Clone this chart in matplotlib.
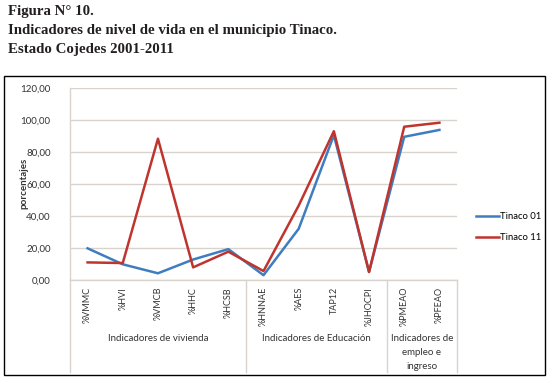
import numpy as np
import matplotlib
matplotlib.use('Agg')
import matplotlib.pyplot as plt
from matplotlib.patches import Rectangle

# data
categories = ['%VMMC', '%HVI', '%VMCB', '%HHC', '%HCSB',
              '%HNNAE', '%AES', 'TAP12', '%JHOCPI',
              '%PMEAO', '%PFEAO']
tinaco_01 = [19.8, 9.8, 4.2, 12.8, 19.3, 3.0, 32.0, 90.5, 5.0, 89.5, 93.8]
tinaco_11 = [11.0, 10.6, 88.3, 7.9, 17.7, 5.6, 46.5, 93.0, 5.0, 95.8, 98.3]
groups = ['Indicadores de vivienda', 'Indicadores de Educación',
          'Indicadores de\nempleo e\ningreso']
group_sizes = [5, 4, 2]
yticks = [0, 20, 40, 60, 80, 100, 120]

W, H = 549, 379
fig = plt.figure(figsize=(W / 100, H / 100), dpi=100)

# title in serif, above the chart frame
title_lines = ['Figura N° 10.',
               'Indicadores de nivel de vida en el municipio Tinaco.',
               'Estado Cojedes 2001-2011']
for i, t in enumerate(title_lines):
    fig.text(8 / W, 1 - (11 + 19.5 * i) / H, t, family='Liberation Serif',
             weight='bold', fontsize=10.7, color='#231f20', va='center', ha='left')

# chart frame
fig.patches.append(Rectangle((3.5 / W, 1 - 374.5 / H), 541 / W, 299 / H,
                             transform=fig.transFigure, fill=False,
                             edgecolor='black', linewidth=1.0))

grid_col = '#d9d3ce'
font = 'Lato'
txt_col = '#333333'

ax = fig.add_axes([70 / W, 1 - 280 / H, 387 / W, 192 / H])
x = np.arange(len(categories))
ax.plot(x, tinaco_01, color='#3f7dc0', lw=1.8, label='Tinaco 01', zorder=3)
ax.plot(x, tinaco_11, color='#c0342e', lw=1.8, label='Tinaco 11', zorder=4)

ax.set_xlim(-0.5, len(categories) - 0.5)
ax.set_ylim(0, 120)
ax.set_yticks(yticks)
ax.set_yticklabels(['{:.2f}'.format(v).replace('.', ',') for v in yticks],
                   family=font, fontsize=7, color=txt_col)
ax.tick_params(axis='y', length=0, pad=14)
ax.yaxis.grid(True, color=grid_col, lw=1.0)
ax.set_axisbelow(True)
ax.set_xticks(x)
ax.set_xticklabels(categories, rotation=90, family=font, fontsize=6.5,
                   color=txt_col, va='top')
ax.tick_params(axis='x', length=0, pad=5)
for s in ['top', 'right']:
    ax.spines[s].set_visible(False)
for s in ['left', 'bottom']:
    ax.spines[s].set_color(grid_col)
    ax.spines[s].set_linewidth(1.0)

# group separators and labels below the axis
trans = ax.get_xaxis_transform()
depth = -(372 - 280) / 192
edges = np.concatenate([[0], np.cumsum(group_sizes)]) - 0.5
for e in edges:
    ax.plot([e, e], [0, depth], color=grid_col, lw=1.0, transform=trans,
            clip_on=False)
for i, g in enumerate(groups):
    mid = (edges[i] + edges[i + 1]) / 2
    ax.text(mid, -(334 - 280) / 192, g, transform=trans, ha='center',
            va='top', family=font, fontsize=7, color=txt_col,
            linespacing=1.7)

fig.text(24 / W, 1 - 183 / H, 'porcentajes', rotation=90, family=font,
         weight='bold', fontsize=7, ha='center', va='center', color=txt_col)

fig.legend(loc='center left', bbox_to_anchor=(468 / W, 1 - 227 / H),
           frameon=False, prop={'family': font, 'size': 6.8},
           handlelength=2.4, handletextpad=0.1, labelspacing=1.3)

fig.savefig('out.png', dpi=100)
